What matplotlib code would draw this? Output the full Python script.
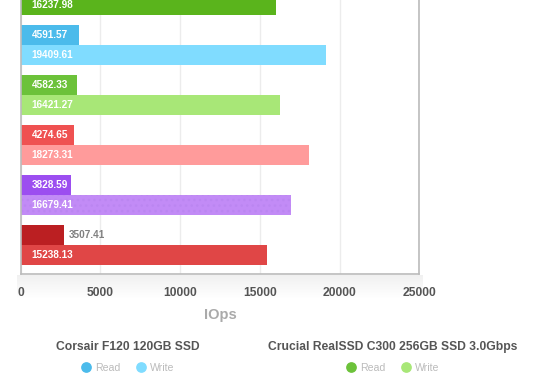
import numpy as np
import matplotlib
matplotlib.use("Agg")
import matplotlib.pyplot as plt
from matplotlib.lines import Line2D

plt.rcParams['font.family'] = ['Liberation Sans', 'DejaVu Sans']

# bar lengths as drawn (IOps); the first group is cut off by the top edge
read_len = [np.nan, 3665, 3540, 3351, 3162, 2722]
write_len = [15988, 19131, 16240, 18063, 16931, 15422]
# numbers printed on the bars
read_text = ['', '4591.57', '4582.33', '4274.65', '3828.59', '3507.41']
write_text = ['16237.98', '19409.61', '16421.27', '18273.31', '16679.41', '15238.13']

read_colors = ['#4e9d14', '#4bbbeb', '#6cc23a', '#ef5151', '#9c4ef0', '#bb1f22']
write_colors = ['#5ab41c', '#80dcff', '#a8e777', '#ff9b9b', '#c28bf6', '#e04646']

ticks = [0, 5000, 10000, 15000, 20000, 25000]

legend_titles = ['Corsair F120 120GB SSD', 'Crucial RealSSD C300 256GB SSD 3.0Gbps']
legend_items = ['Read', 'Write']

fig = plt.figure(figsize=(5.6, 3.9), dpi=100)
ax = fig.add_axes([0.037, 0.2974, 0.7117, 0.7923])

y = np.arange(len(write_len))
ax.barh(y - 0.2, read_len, height=0.4, color=read_colors, linewidth=0)
bars_w = ax.barh(y + 0.2, write_len, height=0.4, color=write_colors, linewidth=0)
# faint dotted texture on the purple write bar
bars_w[4].set_hatch('...')
bars_w[4].set_edgecolor('#bb86f1')

for i in range(len(y)):
    for length, txt, yy in [(read_len[i], read_text[i], y[i] - 0.2),
                            (write_len[i], write_text[i], y[i] + 0.2)]:
        if not txt or np.isnan(length):
            continue
        if length > 2950:
            ax.annotate(txt, (0, yy), xytext=(11, 0), textcoords='offset pixels',
                        va='center', ha='left', color='white', fontsize=7.2,
                        fontweight='bold')
        else:
            ax.annotate(txt, (length, yy), xytext=(5, 0), textcoords='offset pixels',
                        va='center', ha='left', color='#808080', fontsize=7.2,
                        fontweight='bold')

ax.set_xlim(0, 25000)
ax.set_ylim(5.58, -0.6)
ax.set_xticks(ticks)
ax.set_yticks([])
ax.grid(axis='x', color='#ececec', linewidth=1)
ax.set_axisbelow(True)
ax.tick_params(axis='x', length=0, pad=9.5, labelsize=8.7, labelcolor='#555555')
for lbl in ax.get_xticklabels():
    lbl.set_fontweight('bold')
for side in ['left', 'right', 'bottom']:
    ax.spines[side].set_color('#bbbbbb')
    ax.spines[side].set_linewidth(1.2)
ax.spines['top'].set_visible(False)
ax.set_xlabel('IOps', fontsize=10.5, fontweight='bold', color='#aaaaaa', labelpad=6)

# faint shadow under the plot area
sh = fig.add_axes([0.03, 1 - 300 / 390, 0.725, 25 / 390])
grad = np.linspace(0.06, 0, 50).reshape(-1, 1)
sh.imshow(np.dstack([np.zeros((50, 1, 3)), grad]), aspect='auto', extent=[0, 1, 0, 1])
sh.axis('off')
sh.set_zorder(-1)

centers = [128 / 560, 393 / 560]
for k in range(2):
    handles = [Line2D([], [], marker='o', ls='none', markersize=6.7, color=read_colors[k + 1]),
               Line2D([], [], marker='o', ls='none', markersize=6.7, color=write_colors[k + 1])]
    leg = fig.legend(handles, legend_items, title=legend_titles[k], loc='center',
                     bbox_to_anchor=(centers[k], 1 - 357 / 390), ncol=2, frameon=False,
                     fontsize=7.6, title_fontproperties={'weight': 'bold', 'size': 8.7},
                     handlelength=0.8, handletextpad=0.4, columnspacing=1.6,
                     labelspacing=0.9, labelcolor='#bbbbbb')
    leg.get_title().set_color('#555555')

fig.savefig('out.png', dpi=100)
